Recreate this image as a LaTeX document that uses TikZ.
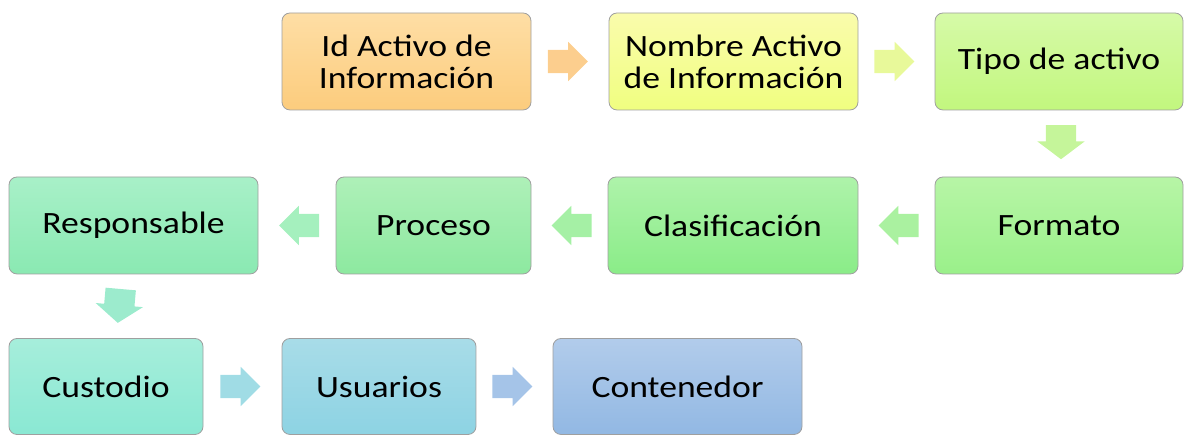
\documentclass[tikz,border=0pt]{standalone}
\usepackage{fontspec}
\setmainfont{Carlito}[FakeStretch=1.15]
\usetikzlibrary{shapes.arrows,calc}

\definecolor{c1a}{RGB}{254,222,165}\definecolor{c1b}{RGB}{252,204,125}
\definecolor{c2a}{RGB}{250,252,172}\definecolor{c2b}{RGB}{240,254,128}
\definecolor{c3a}{RGB}{214,250,168}\definecolor{c3b}{RGB}{194,247,126}
\definecolor{c4a}{RGB}{183,245,166}\definecolor{c4b}{RGB}{154,240,138}
\definecolor{c5a}{RGB}{174,243,170}\definecolor{c5b}{RGB}{138,236,136}
\definecolor{c6a}{RGB}{174,240,184}\definecolor{c6b}{RGB}{141,233,160}
\definecolor{c7a}{RGB}{168,240,200}\definecolor{c7b}{RGB}{138,233,178}
\definecolor{c8a}{RGB}{166,238,219}\definecolor{c8b}{RGB}{138,232,211}
\definecolor{c9a}{RGB}{168,220,232}\definecolor{c9b}{RGB}{141,211,227}
\definecolor{c10a}{RGB}{178,204,235}\definecolor{c10b}{RGB}{146,184,227}

\definecolor{f1}{RGB}{252,206,142}
\definecolor{f2}{RGB}{232,249,154}
\definecolor{f3}{RGB}{197,245,154}
\definecolor{f4}{RGB}{170,241,160}
\definecolor{f5}{RGB}{165,240,165}
\definecolor{f6}{RGB}{165,240,190}
\definecolor{f7}{RGB}{156,235,205}
\definecolor{f8}{RGB}{160,220,229}
\definecolor{f9}{RGB}{165,196,232}

\begin{document}
\begin{tikzpicture}[x=1pt,y=1pt]
        \useasboundingbox (0,0) rectangle (1184,435);

        \begin{scope}[every node/.style={draw=gray!75,line width=0.8pt,rounded corners=8pt,
            minimum height=97pt,inner sep=0pt,align=center,
            font=\fontsize{31}{32}\selectfont}]
          \node[minimum width=249pt,top color=c1a,bottom color=c1b] (1) at (406.5,373.5) {Id Activo de\\Información};
          \node[minimum width=249pt,top color=c2a,bottom color=c2b] (2) at (733.5,373.5) {Nombre Activo\\de Información};
          \node[minimum width=248pt,top color=c3a,bottom color=c3b] (3) at (1059,373.5) {Tipo de activo};
          \node[minimum width=248pt,top color=c4a,bottom color=c4b] (4) at (1059,209.5) {Formato};
          \node[minimum width=250pt,top color=c5a,bottom color=c5b] (5) at (733,209.5) {Clasificación};
          \node[minimum width=195pt,top color=c6a,bottom color=c6b] (6) at (433.5,209.5) {Proceso};
          \node[minimum width=249pt,top color=c7a,bottom color=c7b] (7) at (133.5,209.5) {Responsable};
          \node[minimum width=194pt,minimum height=96pt,top color=c8a,bottom color=c8b] (8) at (106,48.5) {Custodio};
          \node[minimum width=194pt,minimum height=96pt,top color=c9a,bottom color=c9b] (9) at (379,48.5) {Usuarios};
          \node[minimum width=249pt,minimum height=96pt,top color=c10a,bottom color=c10b] (10) at (677.5,48.5) {Contenedor};
        \end{scope}

        \begin{scope}[every node/.style={single arrow,draw=none,inner xsep=0pt,inner ysep=11.5pt,
            minimum height=40pt,single arrow head extend=8pt}]
          \node[fill=f1] (a1) at ($(1.east)!0.5!(2.west)+(-8,0)$) {};
          \node[fill=f2] (a2) at ($(2.east)!0.5!(3.west)+(-8,0)$) {};
          \node[fill=f4,rotate=180] (a4) at ($(4.west)!0.5!(5.east)+(8,0)$) {};
          \node[fill=f5,rotate=180] (a5) at ($(5.west)!0.5!(6.east)+(8,0)$) {};
          \node[fill=f6,rotate=180] (a6) at ($(6.west)!0.5!(7.east)+(8,0)$) {};
          \node[fill=f8] (a8) at ($(8.east)!0.5!(9.west)+(-8,0)$) {};
          \node[fill=f9] (a9) at ($(9.east)!0.5!(10.west)+(-8,0)$) {};
          \begin{scope}[every node/.append style={minimum height=34pt,inner ysep=15pt,
              single arrow head extend=8.5pt,single arrow tip angle=106}]
            \node[fill=f3,rotate=-90] (a3) at ($(3.south)!0.5!(4.north)+(2,7)$) {};
            \node[fill=f7,rotate=-95] (a7) at ($(7.south)!0.5!(8.north)+(0,6)$) {};
          \end{scope}
        \end{scope}

      \end{tikzpicture}
\end{document}
